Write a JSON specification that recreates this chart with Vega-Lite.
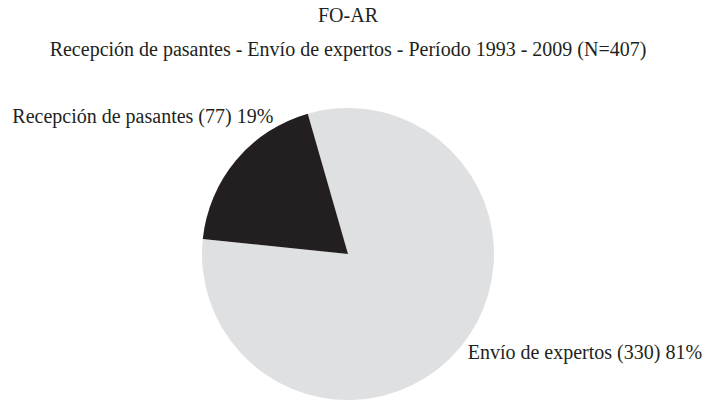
{
  "$schema": "https://vega.github.io/schema/vega-lite/v6.json",
  "width": 696,
  "height": 292,
  "autosize": "none",
  "padding": {"left": 0, "top": 108, "right": 9, "bottom": 0},
  "background": "white",
  "title": {
    "text": "FO-AR",
    "subtitle": "Recepción de pasantes - Envío de expertos - Período 1993 - 2009 (N=407)",
    "anchor": "middle",
    "font": "Liberation Serif",
    "fontSize": 20,
    "fontWeight": "normal",
    "color": "#231f20",
    "subtitleFont": "Liberation Serif",
    "subtitleFontSize": 20,
    "subtitleColor": "#231f20",
    "subtitlePadding": 14,
    "offset": 47
  },
  "data": {
    "values": [
      {"cat": "Envío de expertos", "n": 330, "label": "Envío de expertos (330) 81%"},
      {"cat": "Recepción de pasantes", "n": 77, "label": "Recepción de pasantes (77) 19%"}
    ]
  },
  "encoding": {
    "theta": {"field": "n", "type": "quantitative", "stack": true, "scale": {"range": [-0.2793, 6.0039]}},
    "order": {"field": "cat", "type": "nominal", "sort": "ascending"}
  },
  "layer": [
    {
      "mark": {"type": "arc", "outerRadius": 146},
      "encoding": {
        "color": {
          "field": "cat",
          "type": "nominal",
          "scale": {"domain": ["Envío de expertos", "Recepción de pasantes"], "range": ["#dfe0e2", "#231f20"]},
          "legend": null
        }
      }
    },
    {
      "mark": {
        "type": "text",
        "radius": 160,
        "font": "Liberation Serif",
        "fontSize": 20,
        "color": "#231f20",
        "baseline": "middle",
        "align": {"expr": "datum.cat === 'Envío de expertos' ? 'left' : 'right'"},
        "dx": {"expr": "datum.cat === 'Envío de expertos' ? -3 : 48"},
        "dy": {"expr": "datum.cat === 'Envío de expertos' ? -4 : -34"}
      },
      "encoding": {
        "text": {"field": "label", "type": "nominal"}
      }
    }
  ]
}
